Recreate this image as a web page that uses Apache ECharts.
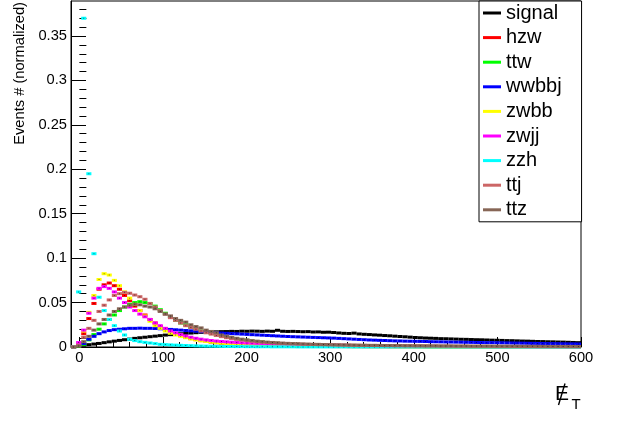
<!DOCTYPE html>
<html>
<head>
<meta charset="utf-8">
<script src="https://cdn.jsdelivr.net/npm/echarts@6/dist/echarts.min.js"></script>
<style>
  html, body { margin: 0; padding: 0; background: #fff; }
  #chart { width: 618px; height: 421px; }
</style>
</head>
<body>
<div id="chart"></div>
<script>
// Histogram binning: 100 bins from -10 to 600
const histMin = -10;
const histMax = 600;
const nBins = 100;

// Normalized bin contents per sample
const signal = [
  0, 0.001, 0.002, 0.0026, 0.0033, 0.004, 0.0049, 0.0058, 0.0066, 0.0074,
  0.0082, 0.0089, 0.0097, 0.0104, 0.011, 0.0116, 0.0122, 0.0128, 0.0134, 0.0139,
  0.0144, 0.0149, 0.0153, 0.0157, 0.0161, 0.0165, 0.0167, 0.0169, 0.0171, 0.0173,
  0.0174, 0.0176, 0.0175, 0.0178, 0.0177, 0.0179, 0.0178, 0.0176, 0.0179, 0.0177,
  0.0188, 0.0177, 0.0175, 0.0176, 0.0174, 0.0172, 0.0173, 0.0169, 0.0170, 0.0166,
  0.0167, 0.0163, 0.0158, 0.0154, 0.0152, 0.0156, 0.0147, 0.0143, 0.0140, 0.0136,
  0.0133, 0.0129, 0.0126, 0.0122, 0.0118, 0.0115, 0.0111, 0.0107, 0.0104, 0.0101,
  0.0099, 0.0097, 0.0094, 0.0093, 0.0091, 0.0089, 0.0087, 0.0086, 0.0084, 0.0082,
  0.0081, 0.0079, 0.0077, 0.0076, 0.0074, 0.0072, 0.0071, 0.0069, 0.0067, 0.0066,
  0.0064, 0.0062, 0.0061, 0.0059, 0.0058, 0.0056, 0.0055, 0.0053, 0.0051, 0.0049
];
const hzw = [
  0, 0.003, 0.015, 0.032, 0.049, 0.065, 0.070, 0.072, 0.069, 0.065,
  0.058, 0.052, 0.046, 0.041, 0.036, 0.031, 0.027, 0.023, 0.020, 0.017,
  0.015, 0.013, 0.011, 0.0095, 0.0083, 0.0072, 0.0063, 0.0055, 0.0048, 0.0042,
  0.0037, 0.0033, 0.0029, 0.0026, 0.0023, 0.0021, 0.0019, 0.0017, 0.0015, 0.0014,
  0.0013, 0.0012, 0.0011, 0.0010, 0.0009, 0.0009, 0.0008, 0.0007, 0.0007, 0.0006,
  0.0006, 0.0005, 0.0005, 0.0005, 0.0004, 0.0004, 0.0004, 0.0003, 0.0003, 0.0003,
  0.0003, 0.0003, 0.0002, 0.0002, 0.0002, 0.0002, 0.0002, 0.0002, 0.0002, 0.0001,
  0.0001, 0.0001, 0.0001, 0.0001, 0.0001, 0.0001, 0.0001, 0.0001, 0.0001, 0.0001,
  0.0001, 0.0001, 0.0001, 0.0001, 0.0001, 0.0001, 0.0001, 0.0001, 0.0001, 0.0001,
  0.0001, 0.0001, 0.0001, 0.0001, 0.0001, 0.0001, 0.0001, 0.0001, 0.0001, 0.0001
];
const ttw = [
  0, 0.001, 0.003, 0.008, 0.014, 0.020, 0.026, 0.031, 0.036, 0.041,
  0.045, 0.048, 0.050, 0.051, 0.050, 0.049, 0.046, 0.042, 0.038, 0.034,
  0.030, 0.027, 0.025, 0.022, 0.020, 0.018, 0.0165, 0.0152, 0.0138, 0.0125,
  0.0113, 0.0102, 0.0092, 0.0083, 0.0075, 0.0068, 0.0062, 0.0056, 0.0051, 0.0046,
  0.0042, 0.0038, 0.0035, 0.0032, 0.0029, 0.0027, 0.0025, 0.0023, 0.0021, 0.0019,
  0.0018, 0.0016, 0.0015, 0.0014, 0.0013, 0.0012, 0.0011, 0.0010, 0.0010, 0.0009,
  0.0008, 0.0008, 0.0007, 0.0007, 0.0006, 0.0006, 0.0006, 0.0005, 0.0005, 0.0005,
  0.0004, 0.0004, 0.0004, 0.0004, 0.0003, 0.0003, 0.0003, 0.0003, 0.0003, 0.0003,
  0.0002, 0.0002, 0.0002, 0.0002, 0.0002, 0.0002, 0.0002, 0.0002, 0.0002, 0.0002,
  0.0002, 0.0002, 0.0001, 0.0001, 0.0001, 0.0001, 0.0001, 0.0001, 0.0001, 0.0001
];
const wwbbj = [
  0, 0.002, 0.004, 0.0087, 0.012, 0.015, 0.017, 0.0185, 0.0195, 0.020,
  0.0205, 0.021, 0.021, 0.0212, 0.021, 0.021, 0.0208, 0.0205, 0.020, 0.0198,
  0.0194, 0.019, 0.0186, 0.0182, 0.0178, 0.0172, 0.0168, 0.0163, 0.016, 0.0157,
  0.0154, 0.0151, 0.0148, 0.0145, 0.0142, 0.0139, 0.0136, 0.0133, 0.013, 0.0127,
  0.0124, 0.0121, 0.0118, 0.0116, 0.0114, 0.0112, 0.011, 0.0108, 0.0106, 0.0104,
  0.0102, 0.010, 0.0097, 0.0094, 0.0091, 0.0088, 0.0085, 0.0082, 0.0079, 0.0077,
  0.0075, 0.0073, 0.0071, 0.0069, 0.0068, 0.0066, 0.0065, 0.0064, 0.0063, 0.0062,
  0.006, 0.0059, 0.0058, 0.0057, 0.0056, 0.0055, 0.0054, 0.0053, 0.0052, 0.0051,
  0.005, 0.0049, 0.0049, 0.0048, 0.0047, 0.0046, 0.0045, 0.0044, 0.0043, 0.0042,
  0.0041, 0.004, 0.0039, 0.0038, 0.0038, 0.0037, 0.0036, 0.0035, 0.0035, 0.0034
];
const zwbb = [
  0, 0.003, 0.018, 0.039, 0.058, 0.076, 0.0825, 0.081, 0.075, 0.069,
  0.062, 0.055, 0.048, 0.041, 0.035, 0.029, 0.024, 0.021, 0.018, 0.0155,
  0.0135, 0.012, 0.0105, 0.009, 0.008, 0.007, 0.0062, 0.0055, 0.0049, 0.0044,
  0.004, 0.0036, 0.0032, 0.0029, 0.0026, 0.0023, 0.0021, 0.0019, 0.0017, 0.0015,
  0.0014, 0.0013, 0.0012, 0.0011, 0.001, 0.0009, 0.0008, 0.0008, 0.0007, 0.0007,
  0.0006, 0.0006, 0.0005, 0.0005, 0.0005, 0.0004, 0.0004, 0.0004, 0.0003, 0.0003,
  0.0003, 0.0003, 0.0003, 0.0002, 0.0002, 0.0002, 0.0002, 0.0002, 0.0002, 0.0002,
  0.0001, 0.0001, 0.0001, 0.0001, 0.0001, 0.0001, 0.0001, 0.0001, 0.0001, 0.0001,
  0.0001, 0.0001, 0.0001, 0.0001, 0.0001, 0.0001, 0.0001, 0.0001, 0.0001, 0.0001,
  0.0001, 0.0001, 0.0001, 0.0001, 0.0001, 0.0001, 0.0001, 0.0001, 0.0001, 0.0001
];
const zwjj = [
  0, 0.005, 0.019, 0.038, 0.055, 0.066, 0.068, 0.066, 0.062, 0.055,
  0.050, 0.045, 0.041, 0.037, 0.034, 0.031, 0.027, 0.024, 0.021, 0.018,
  0.016, 0.014, 0.0125, 0.011, 0.0098, 0.0088, 0.008, 0.0073, 0.0067, 0.0062,
  0.0058, 0.0054, 0.0051, 0.0048, 0.0045, 0.0043, 0.0041, 0.0039, 0.0037, 0.0035,
  0.0034, 0.0032, 0.0031, 0.003, 0.0029, 0.0027, 0.0026, 0.0025, 0.0024, 0.0023,
  0.0022, 0.0021, 0.002, 0.0019, 0.0018, 0.0017, 0.0016, 0.0015, 0.0014, 0.0013,
  0.0012, 0.0011, 0.001, 0.001, 0.0009, 0.0009, 0.0008, 0.0008, 0.0007, 0.0007,
  0.0006, 0.0006, 0.0006, 0.0005, 0.0005, 0.0005, 0.0005, 0.0004, 0.0004, 0.0004,
  0.0004, 0.0004, 0.0003, 0.0003, 0.0003, 0.0003, 0.0003, 0.0003, 0.0003, 0.0002,
  0.0002, 0.0002, 0.0002, 0.0002, 0.0002, 0.0002, 0.0002, 0.0002, 0.0002, 0.0002
];
const zzh = [
  0, 0.062, 0.37, 0.195, 0.105, 0.056, 0.041, 0.031, 0.024, 0.018,
  0.0135, 0.0087, 0.0072, 0.006, 0.0052, 0.0045, 0.0038, 0.003, 0.0027, 0.0024,
  0.0021, 0.0019, 0.0017, 0.0015, 0.0013, 0.0011, 0.001, 0.0009, 0.0008, 0.0007,
  0.0006, 0.0006, 0.0005, 0.0005, 0.0004, 0.0004, 0.0003, 0.0003, 0.0003, 0.0002,
  0.0002, 0.0002, 0.0002, 0.0002, 0.0001, 0.0001, 0.0001, 0.0001, 0.0001, 0.0001,
  0.0001, 0.0001, 0.0001, 0.0001, 0.0001, 0, 0, 0, 0, 0,
  0, 0, 0, 0, 0, 0, 0, 0, 0, 0,
  0, 0, 0, 0, 0, 0, 0, 0, 0, 0,
  0, 0, 0, 0, 0, 0, 0, 0, 0, 0,
  0, 0, 0, 0, 0, 0, 0, 0, 0, 0
];
const ttj = [
  0, 0.002, 0.011, 0.021, 0.030, 0.040, 0.047, 0.053, 0.058, 0.060,
  0.0615, 0.0605, 0.0585, 0.0566, 0.0537, 0.049, 0.045, 0.041, 0.037, 0.033,
  0.030, 0.027, 0.024, 0.022, 0.020, 0.018, 0.016, 0.0145, 0.013, 0.0117,
  0.0105, 0.0095, 0.0086, 0.0078, 0.0071, 0.0065, 0.0059, 0.0054, 0.005, 0.0046,
  0.0043, 0.004, 0.0037, 0.0035, 0.0033, 0.0031, 0.0029, 0.0028, 0.0026, 0.0025,
  0.0024, 0.0023, 0.0022, 0.0021, 0.002, 0.0019, 0.0018, 0.0018, 0.0017, 0.0016,
  0.0016, 0.0015, 0.0015, 0.0014, 0.0014, 0.0013, 0.0013, 0.0012, 0.0012, 0.0011,
  0.0011, 0.0011, 0.001, 0.001, 0.001, 0.0009, 0.0009, 0.0009, 0.0008, 0.0008,
  0.0008, 0.0008, 0.0007, 0.0007, 0.0007, 0.0007, 0.0006, 0.0006, 0.0006, 0.0006,
  0.0006, 0.0005, 0.0005, 0.0005, 0.0005, 0.0005, 0.0005, 0.0004, 0.0004, 0.0004
];
const ttz = [
  0, 0.001, 0.006, 0.012, 0.019, 0.026, 0.031, 0.036, 0.040, 0.043,
  0.045, 0.047, 0.048, 0.0475, 0.046, 0.045, 0.043, 0.040, 0.037, 0.035,
  0.032, 0.030, 0.028, 0.025, 0.023, 0.0215, 0.019, 0.0175, 0.016, 0.0135,
  0.0122, 0.011, 0.0098, 0.0088, 0.008, 0.0072, 0.0066, 0.006, 0.0055, 0.0051,
  0.0047, 0.0044, 0.0041, 0.0039, 0.0037, 0.0035, 0.0033, 0.0031, 0.003, 0.0028,
  0.0027, 0.0026, 0.0025, 0.0024, 0.0023, 0.0022, 0.0021, 0.002, 0.0019, 0.0019,
  0.0018, 0.0017, 0.0017, 0.0016, 0.0016, 0.0015, 0.0015, 0.0014, 0.0014, 0.0013,
  0.0013, 0.0013, 0.0012, 0.0012, 0.0012, 0.0011, 0.0011, 0.0011, 0.001, 0.001,
  0.001, 0.001, 0.001, 0.0009, 0.0009, 0.0009, 0.0009, 0.0009, 0.0008, 0.0008,
  0.0008, 0.0008, 0.0008, 0.0007, 0.0007, 0.0007, 0.0007, 0.0007, 0.0007, 0.0006
];

// Axis tick positions
const xMajorTicks = [0, 100, 200, 300, 400, 500, 600];
const xMinorTicks = [20, 40, 60, 80, 120, 140, 160, 180, 220, 240, 260, 280,
  320, 340, 360, 380, 420, 440, 460, 480, 520, 540, 560, 580];
const yMax = 0.3894;
const yMinorTicks = [0.01, 0.02, 0.03, 0.04, 0.06, 0.07, 0.08, 0.09, 0.11, 0.12, 0.13, 0.14,
  0.16, 0.17, 0.18, 0.19, 0.21, 0.22, 0.23, 0.24, 0.26, 0.27, 0.28, 0.29,
  0.31, 0.32, 0.33, 0.34, 0.36, 0.37, 0.38];

const samples = [
  { name: 'signal', values: signal, color: '#000000' },
  { name: 'hzw',    values: hzw,    color: '#ff0000' },
  { name: 'ttw',    values: ttw,    color: '#00ff00' },
  { name: 'wwbbj',  values: wwbbj,  color: '#0000ff' },
  { name: 'zwbb',   values: zwbb,   color: '#ffff00' },
  { name: 'zwjj',   values: zwjj,   color: '#ff00ff' },
  { name: 'zzh',    values: zzh,    color: '#00ffff' },
  { name: 'ttj',    values: ttj,    color: '#cc6666' },
  { name: 'ttz',    values: ttz,    color: '#876656' }
];

const FONT = '"Liberation Sans", Arial, Helvetica, sans-serif';
const binWidth = (histMax - histMin) / nBins;

function binData(values) {
  return values.map((v, i) => [histMin + i * binWidth, histMin + (i + 1) * binWidth, v]);
}

// Each bin: horizontal bar across the bin width with a small marker dot
function makeRenderer(color) {
  return function (params, api) {
    const lo = api.value(0), hi = api.value(1), v = api.value(2);
    const a = api.coord([lo, v]);
    const b = api.coord([hi, v]);
    const cx = (a[0] + b[0]) / 2;
    return {
      type: 'group',
      children: [
        { type: 'rect', shape: { x: a[0], y: a[1] - 1.5, width: b[0] - a[0], height: 3 },
          style: { fill: color } },
        { type: 'rect', shape: { x: cx - 0.5, y: a[1] - 0.5, width: 1, height: 1 },
          style: { fill: 'rgba(0,0,0,0.55)' } }
      ]
    };
  };
}

const chart = echarts.init(document.getElementById('chart'), null, { renderer: 'canvas' });

const xCommon = {
  type: 'value', min: histMin, max: histMax, position: 'bottom',
  splitLine: { show: false }
};
const yCommon = {
  type: 'value', min: 0, max: yMax, position: 'left',
  splitLine: { show: false }
};

chart.setOption({
  animation: false,
  backgroundColor: '#ffffff',
  grid: {
    left: 71, top: 1, right: 37, bottom: 74,
    show: true, borderColor: '#000', borderWidth: 1, backgroundColor: 'transparent'
  },
  xAxis: [
    Object.assign({}, xCommon, {
      axisLine: { show: true, onZero: false, lineStyle: { color: '#000', width: 1 } },
      axisTick: { show: true, inside: true, length: 10, customValues: xMajorTicks,
        lineStyle: { color: '#000', width: 1 } },
      axisLabel: { show: true, customValues: xMajorTicks, margin: 3,
        fontFamily: FONT, fontSize: 14.7, color: '#000' }
    }),
    Object.assign({}, xCommon, {
      axisLine: { show: false },
      axisTick: { show: true, inside: true, length: 5, customValues: xMinorTicks,
        lineStyle: { color: '#000', width: 1 } },
      axisLabel: { show: false }
    })
  ],
  yAxis: [
    Object.assign({}, yCommon, {
      interval: 0.05,
      axisLine: { show: true, onZero: false, lineStyle: { color: '#000', width: 1 } },
      axisTick: { show: true, inside: true, length: 15, lineStyle: { color: '#000', width: 1 } },
      axisLabel: { show: true, margin: 4, showMaxLabel: false,
        fontFamily: FONT, fontSize: 14.7, color: '#000',
        formatter: v => String(+v.toFixed(2)) }
    }),
    Object.assign({}, yCommon, {
      axisLine: { show: false },
      axisTick: { show: true, inside: true, length: 7, customValues: yMinorTicks,
        lineStyle: { color: '#000', width: 1 } },
      axisLabel: { show: false }
    })
  ],
  legend: {
    orient: 'vertical',
    left: 479, top: 1,
    padding: [2, 20, 2, 4],
    itemWidth: 18, itemHeight: 3, itemGap: 4.6,
    icon: 'rect',
    backgroundColor: '#ffffff',
    borderColor: '#000', borderWidth: 1, borderRadius: 0,
    textStyle: { fontFamily: FONT, fontSize: 20, lineHeight: 20, color: '#000' },
    data: samples.map(s => s.name)
  },
  series: samples.map(s => ({
    name: s.name,
    type: 'custom',
    xAxisIndex: 0,
    yAxisIndex: 0,
    itemStyle: { color: s.color },
    encode: { x: [0, 1], y: 2 },
    renderItem: makeRenderer(s.color),
    data: binData(s.values)
  })),
  graphic: [
    {
      type: 'text', x: 20, y: 2, rotation: Math.PI / 2,
      style: { text: 'Events # (normalized)', font: '14.7px ' + FONT, fill: '#000',
        align: 'right', verticalAlign: 'middle' }
    },
    {
      type: 'text', x: 555, y: 394,
      style: { text: 'E', font: '21px ' + FONT, fill: '#000', align: 'left', verticalAlign: 'middle' }
    },
    {
      type: 'line', shape: { x1: 558.5, y1: 405, x2: 565, y2: 383.5 },
      style: { stroke: '#000', lineWidth: 1.4 }
    },
    {
      type: 'text', x: 571.5, y: 405,
      style: { text: 'T', font: '15px ' + FONT, fill: '#000', align: 'left', verticalAlign: 'middle' }
    }
  ]
});
</script>
</body>
</html>
